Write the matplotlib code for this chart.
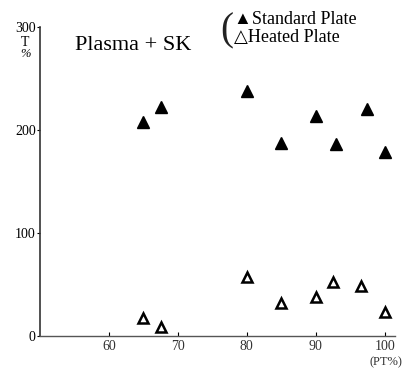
import matplotlib
matplotlib.use("Agg")
import matplotlib.pyplot as plt

# PT % (x) vs T % (y) for the two plate types
x_estandar = [65, 67.5, 80, 85, 90, 93, 97.5, 100]
y_estandar = [208, 222, 238, 187, 214, 186, 220, 179]

x_calentada = [65, 67.5, 80, 85, 90, 92.5, 96.5, 100]
y_calentada = [17, 9, 57, 32, 38, 52, 49, 23]

ticks_x = [60, 70, 80, 90, 100]
ticks_y = [0, 100, 200, 300]

serif = ["Liberation Serif", "DejaVu Sans"]
plt.rcParams["font.family"] = serif

fig = plt.figure(figsize=(4.03, 3.68), dpi=100)
ax = fig.add_axes([40 / 403, 32 / 368, 355 / 403, 309 / 368])

ax.plot(x_estandar, y_estandar, "^", color="black", markersize=8,
        linestyle="none", clip_on=False)
ax.plot(x_calentada, y_calentada, "^", markerfacecolor="white",
        markeredgecolor="black", markeredgewidth=1.8, markersize=6.5,
        linestyle="none", clip_on=False)

ax.set_xlim(50, 101.5)
ax.set_ylim(0, 300)
ax.set_xticks(ticks_x)
ax.set_yticks(ticks_y)
ax.set_xticklabels([str(t) for t in ticks_x], fontsize=10, color="#333333")
ax.set_yticklabels([str(t) for t in ticks_y], fontsize=10)
ax.tick_params(axis="x", direction="in", length=3, width=0.8, pad=3)
ax.tick_params(axis="y", direction="out", length=2, width=0.8, pad=1)

for lado in ["top", "right"]:
    ax.spines[lado].set_visible(False)
ax.spines["left"].set_linewidth(1.2)
ax.spines["left"].set_color("#333333")
ax.spines["bottom"].set_linewidth(1.0)
ax.spines["bottom"].set_color("#555555")

# etiqueta del eje y, apilada bajo el 300
fig.text(25 / 403, 1 - 42 / 368, "T", fontsize=10, ha="center", va="center")
fig.text(25 / 403, 1 - 54 / 368, "%", fontsize=9, ha="center", va="center",
         style="italic")

fig.text(386 / 403, 1 - 362 / 368, "(PT%)", fontsize=9, ha="center",
         va="center", color="#333333")

fig.text(75 / 403, 1 - 45 / 368, "Plasma + SK", fontsize=16, ha="left",
         va="center")

# leyenda escrita a mano con corchete
fig.text(220 / 403, 1 - 31 / 368, "(", fontsize=28, ha="left", va="center",
         color="#222222")
fig.text(234 / 403, 1 - 19 / 368, "▲Standard Plate", fontsize=13,
         ha="left", va="center", family=serif)
fig.text(234 / 403, 1 - 37 / 368, "△Heated Plate", fontsize=13,
         ha="left", va="center", family=serif)

fig.savefig("out.png", dpi=100)
